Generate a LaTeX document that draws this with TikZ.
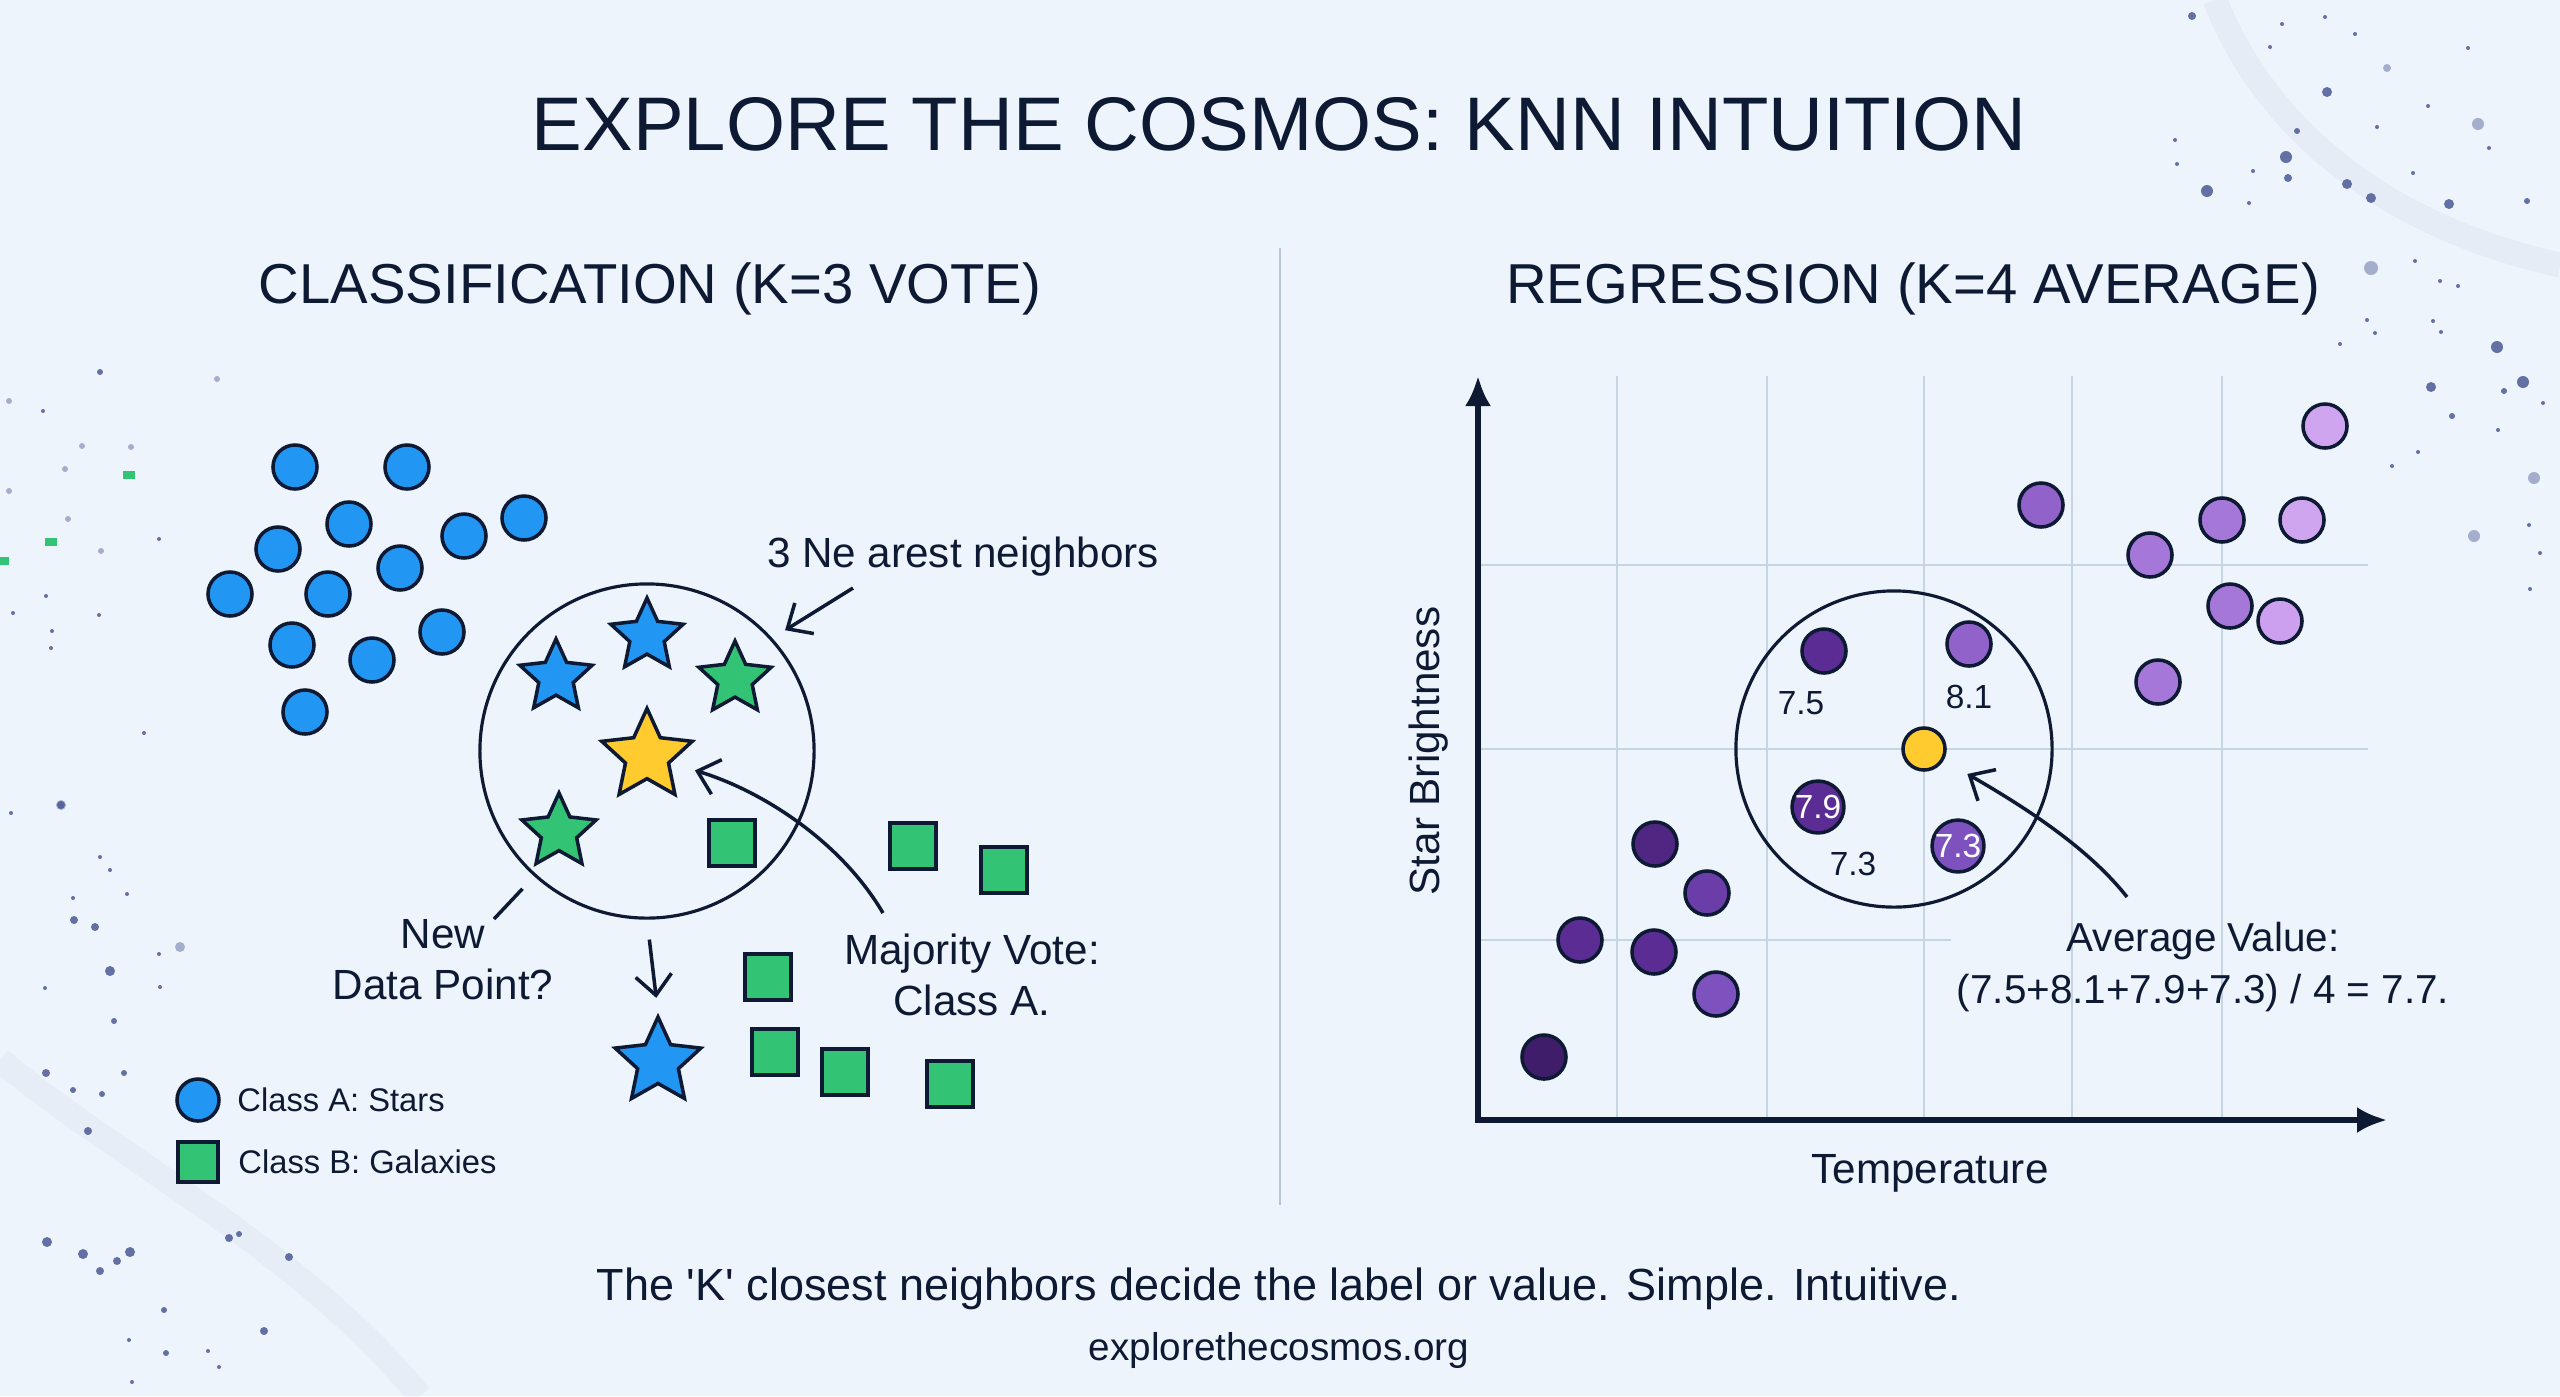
\documentclass[tikz,border=0pt]{standalone}
\usepackage{fontspec}
\setmainfont{Liberation Sans}
\usepackage{tikz}
\usetikzlibrary{positioning,arrows.meta,shapes.geometric}

\definecolor{bgblue}{HTML}{EEF4FB}
\definecolor{ink}{HTML}{0E1A33}
\definecolor{starblue}{HTML}{2196F3}
\definecolor{galgreen}{HTML}{33C375}
\definecolor{newyellow}{HTML}{FFCB2E}
\definecolor{gridcol}{HTML}{C6D4E4}
\definecolor{divcol}{HTML}{B8C7D8}
\definecolor{dustcol}{HTML}{4A5A94}
\definecolor{pa}{HTML}{3F1D6B}
\definecolor{pb}{HTML}{4F2783}
\definecolor{pc}{HTML}{5B2D94}
\definecolor{pd}{HTML}{6B3DA8}
\definecolor{pe}{HTML}{7E52BE}
\definecolor{pf}{HTML}{9062CA}
\definecolor{pg}{HTML}{A577D8}
\definecolor{ph}{HTML}{D0A5F0}

\begin{document}
\begin{tikzpicture}[x=0.01cm, y=-0.01cm, align=center,
    titletxt/.style={text=ink, inner sep=0pt, font=\fontsize{21.6}{26}\selectfont},
    headtxt/.style={text=ink, inner sep=0pt, font=\fontsize{16}{20}\selectfont},
    lbltxt/.style={text=ink, inner sep=0pt, font=\fontsize{12}{14.5}\selectfont},
    legtxt/.style={text=ink, inner sep=0pt, font=\fontsize{9.3}{11}\selectfont},
    numtxt/.style={text=ink, inner sep=0pt, font=\fontsize{9.5}{11}\selectfont},
    classA/.style={circle, draw=ink, line width=1pt, fill=starblue, minimum size=0.44cm, inner sep=0pt},
    classB/.style={rectangle, draw=ink, line width=1pt, fill=galgreen, minimum size=0.46cm, inner sep=0pt},
    starpt/.style={star, star points=5, star point ratio=2.1, draw=ink, line width=1pt, inner sep=0pt, minimum size=#1},
    valpt/.style={circle, draw=ink, line width=1pt, fill=#1, minimum size=0.44cm, inner sep=0pt,
        text=white, font=\fontsize{9.5}{11}\selectfont},
    nbhd/.style={circle, draw=ink, line width=0.9pt, inner sep=0pt, minimum size=#1},
    barb/.style={draw=ink, line width=1pt, -{Straight Barb[length=2mm, width=3.6mm]}},
    gridline/.style={draw=gridcol, line width=0.6pt},
    axisline/.style={draw=ink, line width=1.5pt}
]
    \useasboundingbox (0,0) rectangle (2560,1396);
    \fill[bgblue] (0,0) rectangle (2560,1396);

    % cosmic dust
    \draw[dustcol, opacity=0.05, line width=7pt] (2215,0) .. controls (2270,140) and (2400,230) .. (2560,265);
    \draw[dustcol, opacity=0.04, line width=7pt] (0,1060) .. controls (120,1160) and (300,1250) .. (420,1396);
    \foreach \dx/\dy/\dr in {2192/16/4, 2327/92/5, 2286/157/6, 2288/178/4, 2347/184/5, 2371/198/5,
        2449/204/5, 2207/191/6, 2497/347/6, 2523/382/6, 2431/387/5, 2468/48/2, 2489/148/2, 2428/106/2,
        2377/127/2, 2355/34/2, 2325/17/2, 2297/131/3, 2413/173/2, 2527/201/3, 2415/261/2, 2440/281/2,
        2458/286/2, 2433/321/2, 2441/332/2, 2367/320/2, 2375/333/2, 2340/344/2, 2504/391/3, 2543/403/2,
        2452/416/3, 2498/430/2, 2418/452/2, 2392/466/2, 2529/525/2, 2540/553/2, 2530/589/2, 2253/171/2,
        2249/203/2, 2175/140/2, 2177/164/2, 2270/47/2, 2282/24/2,
        100/372/3, 43/411/2, 159/539/2, 13/613/2, 99/615/2, 46/596/2, 52/631/2, 51/648/2, 144/733/2,
        61/805/4, 11/813/2, 100/857/2, 110/870/2, 127/894/2, 73/898/2, 74/920/4, 95/927/4, 110/971/5,
        159/954/2, 160/987/2, 45/988/2, 114/1021/3, 46/1073/4, 124/1073/3, 73/1090/3, 102/1094/3,
        88/1131/4, 47/1242/5, 83/1254/5, 100/1271/4, 117/1261/4, 130/1252/5, 229/1238/4, 239/1234/3,
        289/1257/4, 264/1331/4, 166/1353/3, 164/1310/3, 129/1340/2, 132/1382/2, 208/1351/2, 219/1367/2}
        \fill[dustcol, opacity=0.85] (\dx,\dy) circle (\dr);
    \foreach \dx/\dy/\dr in {2478/124/6, 2371/268/7, 2534/478/6, 2474/536/6, 2387/68/4,
        217/379/3, 9/401/3, 82/446/3, 131/447/3, 65/469/3, 9/491/3, 68/519/3, 101/551/3, 180/947/5, 61/805/5}
        \fill[dustcol, opacity=0.45] (\dx,\dy) circle (\dr);
    \foreach \dx/\dy in {129/475, 51/542, 3/561}
        \fill[galgreen] (\dx-6,\dy-4) rectangle (\dx+6,\dy+4);

    % headings
    \node [titletxt, anchor=base] (title) at (1279,150) {EXPLORE THE COSMOS: KNN INTUITION};
    \node [headtxt, anchor=base] (clshead) at (650,303) {CLASSIFICATION (K=3 VOTE)};
    \node [headtxt, anchor=base] (reghead) at (1913,303) {REGRESSION (K=4 AVERAGE)};

    \coordinate (divtop) at (1280,248);
    \coordinate (divbot) at (1280,1205);
    \draw[divcol, line width=0.7pt] (divtop) -- (divbot);

    % classification: class A cloud
    \node [classA] (a1) at (295,467) {};
    \node [classA] (a2) at (407,467) {};
    \node [classA] (a3) at (349,524) {};
    \node [classA] (a4) at (278,549) {};
    \node [classA] (a5) at (464,536) {};
    \node [classA] (a6) at (524,518) {};
    \node [classA] (a7) at (400,568) {};
    \node [classA] (a8) at (230,594) {};
    \node [classA] (a9) at (328,594) {};
    \node [classA] (a10) at (292,645) {};
    \node [classA] (a11) at (442,632) {};
    \node [classA] (a12) at (372,660) {};
    \node [classA] (a13) at (305,712) {};

    % classification: neighbourhood
    \node [nbhd=3.34cm] (nbhdC) at (647,751) {};
    \node [starpt=0.76cm, fill=starblue] (nn1) at (647,636) {};
    \node [starpt=0.76cm, fill=starblue] (nn2) at (556,677) {};
    \node [starpt=0.76cm, fill=galgreen] (nn3) at (735,679) {};
    \node [starpt=0.95cm, fill=newyellow] (newpt) at (647,756) {};
    \node [starpt=0.78cm, fill=galgreen] (nn4) at (559,832) {};

    % classification: class B
    \node [classB] (b1) at (732,843) {};
    \node [classB] (b2) at (913,846) {};
    \node [classB] (b3) at (1004,870) {};
    \node [classB] (b4) at (768,977) {};
    \node [classB] (b5) at (775,1052) {};
    \node [classB] (b6) at (845,1072) {};
    \node [classB] (b7) at (950,1084) {};

    \node [starpt=0.9cm, fill=starblue] (predpt) at (658,1062) {};
    \draw[barb, shorten <=0.2cm, shorten >=0.15cm] (nbhdC.south) -- (predpt.north);

    \node [lbltxt, anchor=base] (knnlbl) at (963,567) {3 Ne arest neighbors};
    \coordinate (knnfrom) at (853,588);
    \draw[barb, shorten >=0.15cm] (knnfrom) -- (nbhdC.42);

    \node [lbltxt] (newlbl) at (443,960) {New\\Data Point?};
    \coordinate (newfrom) at (494,919);
    \draw[draw=ink, line width=1pt, shorten >=0.17cm] (newfrom) -- (nbhdC.228);

    \node [lbltxt] (votelbl) at (972,975) {Majority Vote:\\Class A.};
    \coordinate (votefrom) at (883,913);
    \draw[barb, shorten >=0.5cm] (votefrom) .. controls (840,840) and (760,790) .. (newpt.center);

    % Legend
    \node [classA, minimum size=0.42cm] (legA) at (198,1100) {};
    \node [legtxt, right=0.16cm of legA] (legAtxt) {Class A: Stars};
    \node [classB, minimum size=0.40cm] (legB) at (198,1162) {};
    \node [legtxt, right=0.18cm of legB] (legBtxt) {Class B: Galaxies};

    % regression: grid and axes
    \foreach \gx in {1617,1767,1924,2072,2222}
        \draw[gridline] (\gx,376) -- (\gx,1120);
    \draw[gridline] (1478,565) -- (2368,565);
    \draw[gridline] (1478,749) -- (2368,749);
    \draw[gridline] (1478,940) -- (1951,940);

    \coordinate (origin) at (1478,1120);
    \coordinate (ytip) at (1478,376);
    \coordinate (xtip) at (2387,1120);
    \draw[axisline, {Latex[length=3mm, width=2.6mm]}-{Latex[length=3mm, width=2.6mm]}] (ytip) -- (origin) -- (xtip);

    \node [lbltxt, rotate=90] (ylbl) at (1429,751) {Star Brightness};
    \node [lbltxt, anchor=base] (xlbl) at (1930,1183) {Temperature};

    % regression: low cluster
    \node [valpt=pb] (l1) at (1655,844) {};
    \node [valpt=pd] (l2) at (1707,893) {};
    \node [valpt=pc] (l3) at (1580,940) {};
    \node [valpt=pc] (l4) at (1654,952) {};
    \node [valpt=pe] (l5) at (1716,994) {};
    \node [valpt=pa] (l6) at (1544,1057) {};

    % regression: high cluster
    \node [valpt=pf] (h1) at (2041,505) {};
    \node [valpt=pg] (h2) at (2150,555) {};
    \node [valpt=pg] (h3) at (2222,520) {};
    \node [valpt=ph] (h4) at (2302,520) {};
    \node [valpt=pg] (h5) at (2230,606) {};
    \node [valpt=ph!90!pg] (h6) at (2280,621) {};
    \node [valpt=pg] (h7) at (2158,682) {};
    \node [valpt=ph] (h8) at (2325,426) {};

    % regression: 4 nearest
    \node [nbhd=3.16cm] (nbhdR) at (1894,749) {};
    \node [valpt=pc] (p75) at (1824,651) {};
    \node [numtxt, below=0.16cm of p75, xshift=-0.23cm] (p75lbl) {7.5};
    \node [valpt=pf] (p81) at (1969,644) {};
    \node [numtxt, below=0.17cm of p81] (p81lbl) {8.1};
    \node [valpt=pc] (p79) at (1818,807) {7.9};
    \node [numtxt, below=0.17cm of p79, xshift=0.35cm] (p73lbl) {7.3};
    \node [valpt=pe] (p73) at (1958,846) {7.3};
    \node [circle, draw=ink, line width=1pt, fill=newyellow, minimum size=0.42cm, inner sep=0pt] (avgpt) at (1924,749) {};

    \node [lbltxt, font=\fontsize{11.5}{14.8}\selectfont] (avglbl) at (2203,967) {Average Value:\\(7.5+8.1+7.9+7.3) / 4 = 7.7.};
    \coordinate (avgfrom) at (2127,897);
    \draw[barb, shorten >=0.5cm] (avgfrom) .. controls (2090,850) and (2030,810) .. (avgpt.center);

    % footer
    \node [lbltxt, font=\fontsize{12.8}{15}\selectfont, anchor=base] (caption) at (1279,1300) {The \textquotesingle K\textquotesingle{} closest neighbors decide the label or value. Simple. Intuitive.};
    \node [lbltxt, font=\fontsize{11}{13}\selectfont, anchor=base] (site) at (1279,1360) {explorethecosmos.org};
\end{tikzpicture}
\end{document}
